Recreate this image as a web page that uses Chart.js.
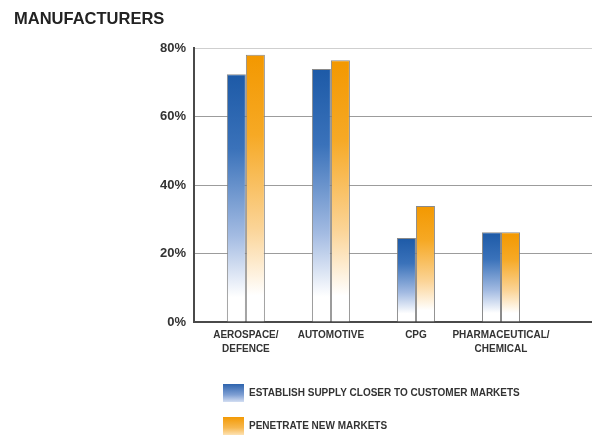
<!DOCTYPE html>
<html><head><meta charset="utf-8">
<script src="https://cdn.jsdelivr.net/npm/chart.js@4.4.1/dist/chart.umd.min.js"></script>
<style>html,body{margin:0;padding:0;background:#fff;overflow:hidden}canvas{display:block}</style>
</head><body>
<canvas id="c" width="592" height="436"></canvas>
<script>
// ---- data ----
const chartTitle = 'MANUFACTURERS';
const categories = [['AEROSPACE/', 'DEFENCE'], 'AUTOMOTIVE', 'CPG', ['PHARMACEUTICAL/', 'CHEMICAL']];
const seriesNames = ['ESTABLISH SUPPLY CLOSER TO CUSTOMER MARKETS', 'PENETRATE NEW MARKETS'];
const supplyCloser = [72.3, 73.9, 24.5, 26.2];
const newMarkets = [78.0, 76.4, 33.9, 26.2];
const yTicks = [0, 20, 40, 60, 80];

// ---- styles ----
const FONT = "'Liberation Sans', Arial, sans-serif";
Chart.defaults.font.family = FONT;
const blueStops = [[0, '#1d5aa7'], [0.3, '#3a72ba'], [0.65, '#a3bbe2'], [0.9, '#ffffff']];
const orangeStops = [[0, '#f39800'], [0.3, '#f6a925'], [0.65, '#fbd497'], [0.9, '#ffffff']];
const legendStops = [
  [[0, '#2e64ae'], [0.6, '#7f9fd3'], [1, '#d3def2']],
  [[0, '#f39a05'], [0.6, '#f7b850'], [1, '#fde2b3']]
];

function grad(chart, y0, y1, stops) {
  const g = chart.ctx.createLinearGradient(0, y0, 0, y1);
  stops.forEach(s => g.addColorStop(s[0], s[1]));
  return g;
}
function barFill(stops, solid) {
  return (c) => {
    const chart = c.chart;
    if (!chart.chartArea || c.type !== 'data' || !c.parsed) return solid;
    const y = chart.scales.y;
    return grad(chart, y.getPixelForValue(c.parsed.y), y.getPixelForValue(0), stops);
  };
}

const legendPlacement = {
  id: 'legendPlacement',
  afterLayout(chart) {
    const lg = chart.legend;
    lg.left += 14; lg.right += 14; lg.top += 9; lg.bottom += 9;
  },
  beforeDraw(chart) {
    const lg = chart.legend;
    const o = lg.options.labels;
    (lg.legendItems || []).forEach((it, i) => {
      const y0 = lg.top + o.padding + i * (o.boxHeight + o.padding);
      it.fillStyle = grad(chart, y0, y0 + o.boxHeight, legendStops[i]);
      it.lineWidth = 0;
    });
  }
};

new Chart(document.getElementById('c'), {
  type: 'bar',
  data: {
    datasets: [
      {
        label: seriesNames[0],
        data: categories.map((_, i) => ({ x: i, y: supplyCloser[i] })),
        backgroundColor: barFill(blueStops, '#2a64ad'),
        borderColor: 'rgba(125,125,125,0.9)',
        borderWidth: 1
      },
      {
        label: seriesNames[1],
        data: categories.map((_, i) => ({ x: i, y: newMarkets[i] })),
        backgroundColor: barFill(orangeStops, '#f39a00'),
        borderColor: 'rgba(125,125,125,0.9)',
        borderWidth: 1
      }
    ]
  },
  options: {
    responsive: false,
    animation: false,
    categoryPercentage: 0.447,
    barPercentage: 1,
    layout: { padding: { left: 14, right: 0, top: 0, bottom: 0 } },
    plugins: {
      tooltip: { enabled: false },
      title: {
        display: true,
        text: chartTitle,
        align: 'start',
        color: '#222',
        font: { family: FONT, size: 16.5, weight: 'bold', lineHeight: 1.2 },
        padding: { top: 9.5, bottom: 18.7 }
      },
      legend: {
        position: 'bottom',
        align: 'start',
        fullSize: false,
        labels: {
          boxWidth: 21,
          boxHeight: 18,
          padding: 15,
          color: '#333',
          font: { family: FONT, size: 10, weight: 'bold' }
        }
      }
    },
    scales: {
      x: {
        type: 'linear',
        offset: false,
        min: -0.61,
        max: 4.07,
        afterBuildTicks: s => { s.ticks = categories.map((_, i) => ({ value: i })); },
        afterFit: s => { s.height = 38; },
        ticks: {
          autoSkip: false,
          maxRotation: 0,
          minRotation: 0,
          padding: 6,
          color: '#333',
          font: { family: FONT, size: 10, weight: 'bold', lineHeight: 1.4 },
          callback: v => categories[v]
        },
        grid: { display: false, drawTicks: false, offset: false },
        border: { display: true, color: '#4a4a4a', width: 2 }
      },
      y: {
        min: 0,
        max: 80,
        afterBuildTicks: s => { s.ticks = yTicks.map(v => ({ value: v })); },
        afterFit: s => { s.width = 180; },
        ticks: {
          padding: 8,
          color: '#333',
          font: { family: FONT, size: 13, weight: 'bold' },
          callback: v => v + '%'
        },
        grid: {
          drawTicks: false,
          lineWidth: 1,
          color: c => (c.tick && c.tick.value === 80) ? '#cfcfcf' : '#9c9c9c'
        },
        border: { display: true, color: '#4a4a4a', width: 2 }
      }
    }
  },
  plugins: [legendPlacement]
});
</script>
</body></html>
